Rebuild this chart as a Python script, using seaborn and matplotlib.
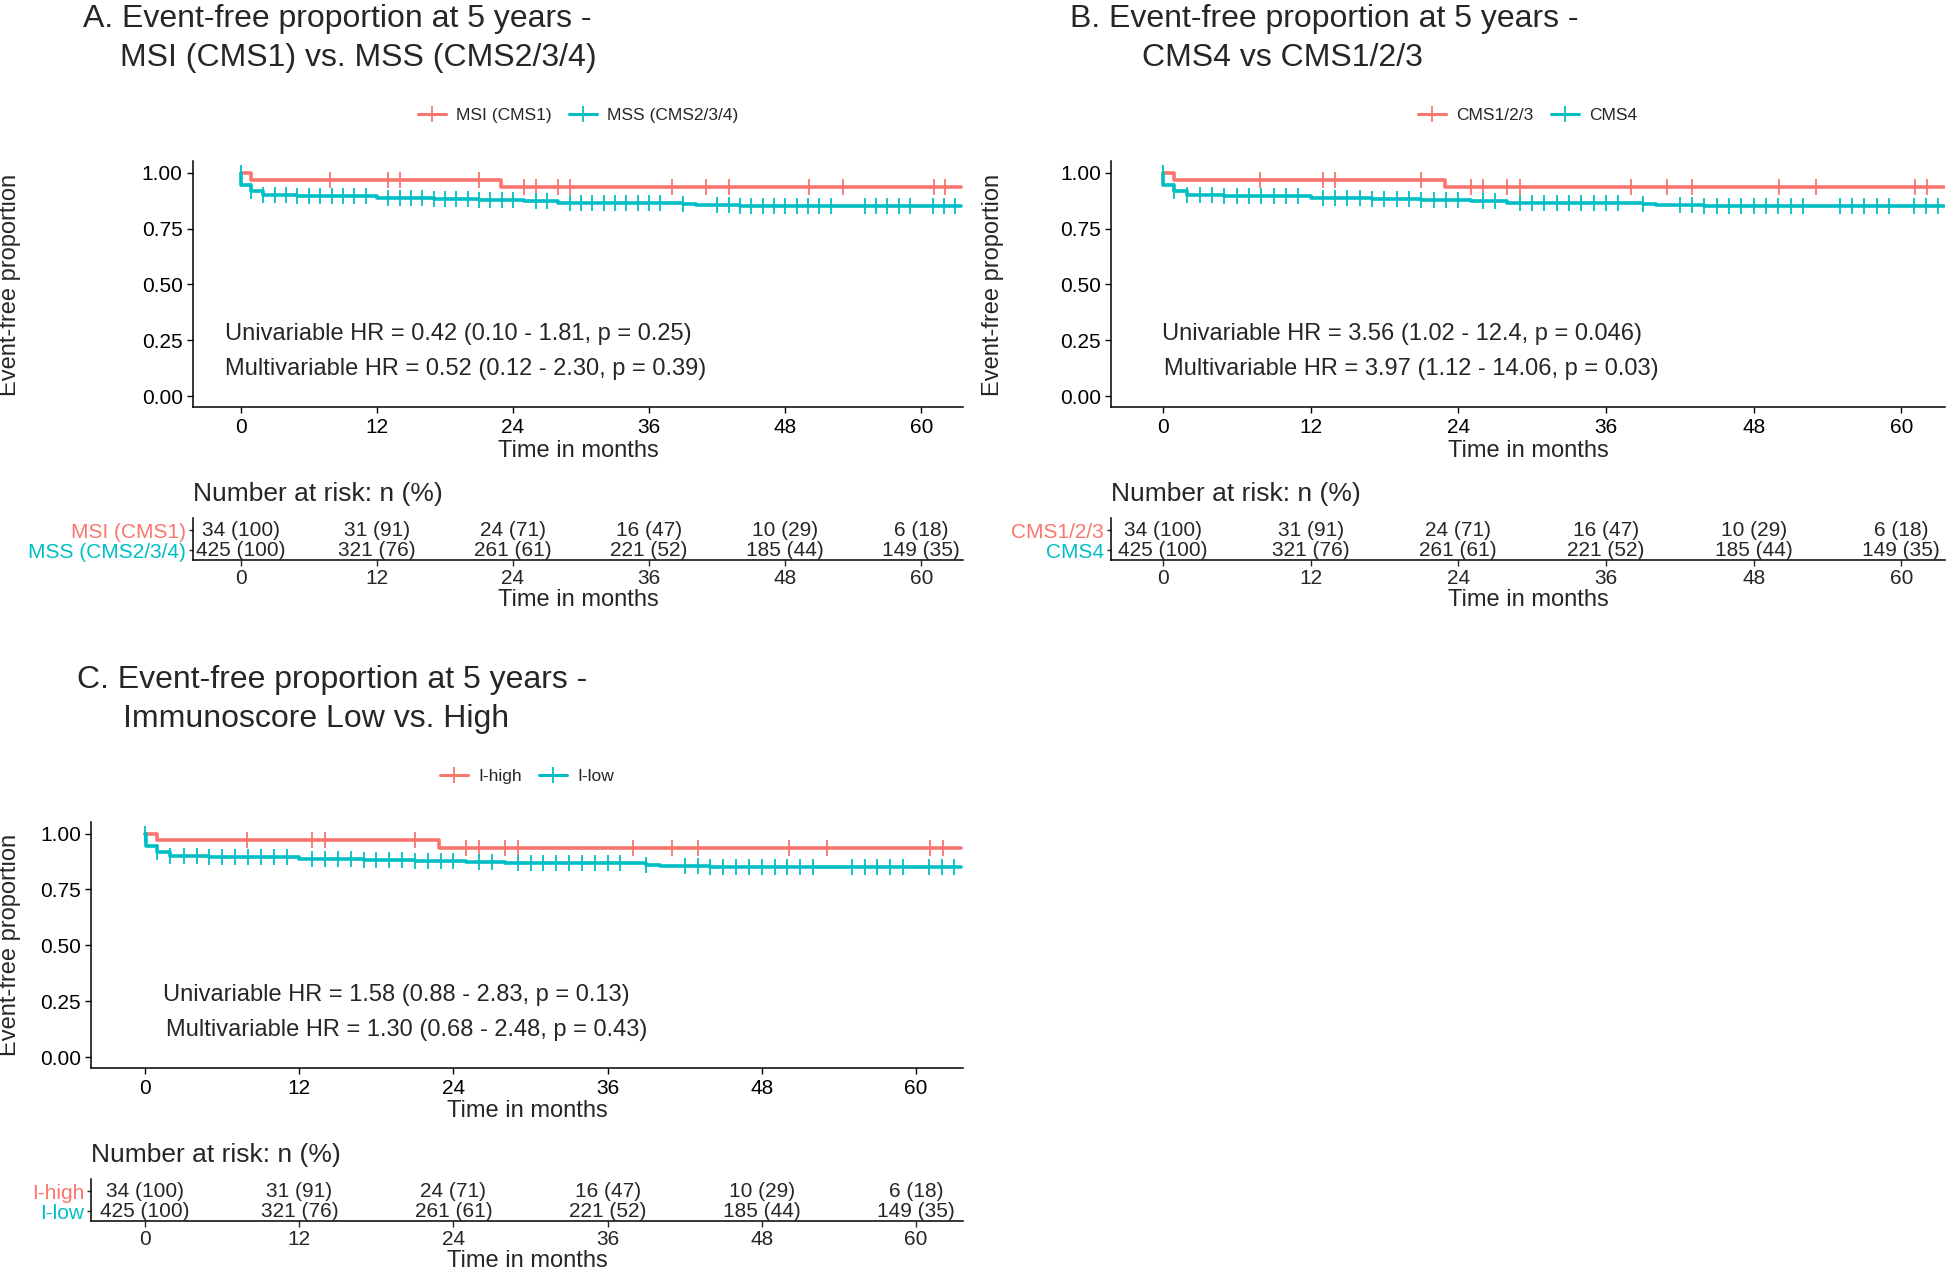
import numpy as np
import matplotlib
matplotlib.use("Agg")
import matplotlib.pyplot as plt
from matplotlib.lines import Line2D
import seaborn as sns

# ---------------- data ----------------
month_ticks = [0, 12, 24, 36, 48, 60]
y_ticks = [0.00, 0.25, 0.50, 0.75, 1.00]

# Kaplan-Meier step points (time in months, event-free proportion)
hi_step_t = [0.0, 0.92, 22.9, 63.5]
hi_step_s = [1.0, 0.969, 0.937, 0.937]
lo_step_t = [0.0, 0.05, 0.9, 1.96, 5.0, 12.0, 17.0, 21.0, 25.0, 28.0, 39.0, 40.1, 44.0, 63.5]
lo_step_s = [1.0, 0.946, 0.919, 0.900, 0.894, 0.888, 0.883, 0.878, 0.872, 0.866, 0.860, 0.856, 0.850, 0.850]

# censoring times
hi_censor = [7.9, 13.0, 14.0, 21.0, 25.0, 26.0, 28.0, 29.0, 38.0, 41.0, 43.0, 50.1, 53.1, 61.1, 62.1]
lo_censor = [0, 0.92, 1.96, 3, 4, 5, 6, 7, 8, 9, 10, 11, 13, 14, 15, 16, 17, 18, 19, 20, 21, 22,
             23, 24, 26, 27, 29, 30, 31, 32, 33, 34, 35, 36, 37, 39, 42, 43, 44, 45, 46, 47, 48,
             49, 50, 51, 52, 55, 56, 57, 58, 59, 61, 62, 63]

# number at risk
risk_hi_n = [34, 31, 24, 16, 10, 6]
risk_hi_pct = [100, 91, 71, 47, 29, 18]
risk_lo_n = [425, 321, 261, 221, 185, 149]
risk_lo_pct = [100, 76, 61, 52, 44, 35]

title_line1 = ["A. Event-free proportion at 5 years -",
               "B. Event-free proportion at 5 years -",
               "C. Event-free proportion at 5 years -"]
title_line2 = ["MSI (CMS1) vs. MSS (CMS2/3/4)",
               "CMS4 vs CMS1/2/3",
               "Immunoscore Low vs. High"]
group_hi = ["MSI (CMS1)", "CMS1/2/3", "I-high"]
group_lo = ["MSS (CMS2/3/4)", "CMS4", "I-low"]
hr_uni = ["Univariable HR = 0.42 (0.10 - 1.81, p = 0.25)",
          "Univariable HR = 3.56 (1.02 - 12.4, p = 0.046)",
          "Univariable HR = 1.58 (0.88 - 2.83, p = 0.13)"]
hr_multi = ["Multivariable HR = 0.52 (0.12 - 2.30, p = 0.39)",
            "Multivariable HR = 3.97 (1.12 - 14.06, p = 0.03)",
            "Multivariable HR = 1.30 (0.68 - 2.48, p = 0.43)"]

# ---------------- style ----------------
sns.set_style("ticks")
plt.rcParams["font.family"] = ["Liberation Sans", "DejaVu Sans"]
RED = "#F8766D"
TEAL = "#00BFC4"

W, H = 1568.0, 1024.0  # layout reference units


def fx(x):
    return x / W


def fy(y):
    return 1 - y / H


# layout per panel (reference units)
layouts = [
    dict(x0=194, ppm=9.14, dy=0, title_x=67, title2_x=97, ylabel_x=8, hr_x=(-1.4, -1.4)),
    dict(x0=937, ppm=9.917, dy=0, title_x=862, title2_x=920, ylabel_x=800, hr_x=(-0.1, 0.1)),
    dict(x0=117, ppm=10.35, dy=532, title_x=62, title2_x=99, ylabel_x=8, hr_x=(1.35, 1.64)),
]

fig = plt.figure(figsize=(19.46, 12.72), dpi=100)

XMIN = -4.2


def step_value(t_arr, s_arr, t):
    idx = np.searchsorted(np.asarray(t_arr), t, side="right") - 1
    return np.asarray(s_arr)[idx]


for i, L in enumerate(layouts):
    dy = L["dy"]
    left = L["x0"] + XMIN * L["ppm"]
    right = min(L["x0"] + 63.7 * L["ppm"], W - 1)
    xmax = (right - L["x0"]) / L["ppm"]

    # ---- main KM axes ----
    top, bottom = 130 + dy, 328 + dy
    ax = fig.add_axes([fx(left), fy(bottom), (right - left) / W, (bottom - top) / H])
    sns.lineplot(x=hi_step_t, y=hi_step_s, ax=ax, color=RED, lw=2.6,
                 drawstyle="steps-post", estimator=None, sort=False)
    sns.lineplot(x=lo_step_t, y=lo_step_s, ax=ax, color=TEAL, lw=2.6,
                 drawstyle="steps-post", estimator=None, sort=False)
    ax.plot(hi_censor, step_value(hi_step_t, hi_step_s, hi_censor), ls="none",
            marker="|", ms=11, mew=1.3, color=RED)
    ax.plot(lo_censor, step_value(lo_step_t, lo_step_s, lo_censor), ls="none",
            marker="|", ms=11, mew=1.3, color=TEAL)
    ax.set_xlim(XMIN, xmax)
    ax.set_ylim(-0.05, 1.05)
    ax.set_xticks(month_ticks)
    ax.set_yticks(y_ticks)
    ax.set_yticklabels([f"{v:.2f}" for v in y_ticks])
    ax.tick_params(labelsize=15, length=4, width=1, colors="black")
    for s in ["top", "right"]:
        ax.spines[s].set_visible(False)
    for s in ["left", "bottom"]:
        ax.spines[s].set_color("black")
        ax.spines[s].set_linewidth(1.1)
    ax.set_xlabel("Time in months", fontsize=17, labelpad=2)
    ax.set_ylabel("")
    fig.text(fx(L["ylabel_x"]), fy(229 + dy), "Event-free proportion", rotation=90,
             fontsize=17, ha="center", va="center")
    ax.text(L["hr_x"][0], 0.278, hr_uni[i], fontsize=17, ha="left", va="center")
    ax.text(L["hr_x"][1], 0.122, hr_multi[i], fontsize=17, ha="left", va="center")

    # titles
    fig.text(fx(L["title_x"]), fy(22 + dy), title_line1[i], fontsize=23, ha="left", va="baseline")
    fig.text(fx(L["title2_x"]), fy(53 + dy), title_line2[i], fontsize=23, ha="left", va="baseline")

    # legend
    handles = [Line2D([], [], color=RED, lw=2.2, marker="|", ms=12, mew=1.3),
               Line2D([], [], color=TEAL, lw=2.2, marker="|", ms=12, mew=1.3)]
    fig.legend(handles, [group_hi[i], group_lo[i]], loc="center", ncol=2, frameon=False,
               fontsize=12.5, handlelength=1.6, columnspacing=1.0, handletextpad=0.6,
               bbox_to_anchor=(fx((left + right) / 2), fy(93 + dy)))

    # ---- risk table ----
    ttop, tbot = 417 + dy, 451 + dy
    axt = fig.add_axes([fx(left), fy(tbot), (right - left) / W, (tbot - ttop) / H])
    axt.set_xlim(XMIN, xmax)
    axt.set_ylim(0.5, 2.625)
    for m, n, p in zip(month_ticks, risk_hi_n, risk_hi_pct):
        axt.text(m, 2, f"{n} ({p})", ha="center", va="center", fontsize=15)
    for m, n, p in zip(month_ticks, risk_lo_n, risk_lo_pct):
        axt.text(m, 1, f"{n} ({p})", ha="center", va="center", fontsize=15)
    axt.set_xticks(month_ticks)
    axt.set_yticks([2, 1])
    axt.set_yticklabels([group_hi[i], group_lo[i]])
    for lab, c in zip(axt.get_yticklabels(), [RED, TEAL]):
        lab.set_color(c)
    axt.tick_params(axis="y", labelsize=15, length=3, width=1, pad=2)
    axt.tick_params(axis="x", labelsize=15, length=4, width=1, pad=2.5)
    for s in ["top", "right"]:
        axt.spines[s].set_visible(False)
    for s in ["left", "bottom"]:
        axt.spines[s].set_color("black")
        axt.spines[s].set_linewidth(1.1)
    axt.set_xlabel("Time in months", fontsize=17, labelpad=0.5)
    fig.text(fx(left), fy(398 + dy), "Number at risk: n (%)", fontsize=19,
             ha="left", va="center")

fig.savefig("out.png", dpi=100)
